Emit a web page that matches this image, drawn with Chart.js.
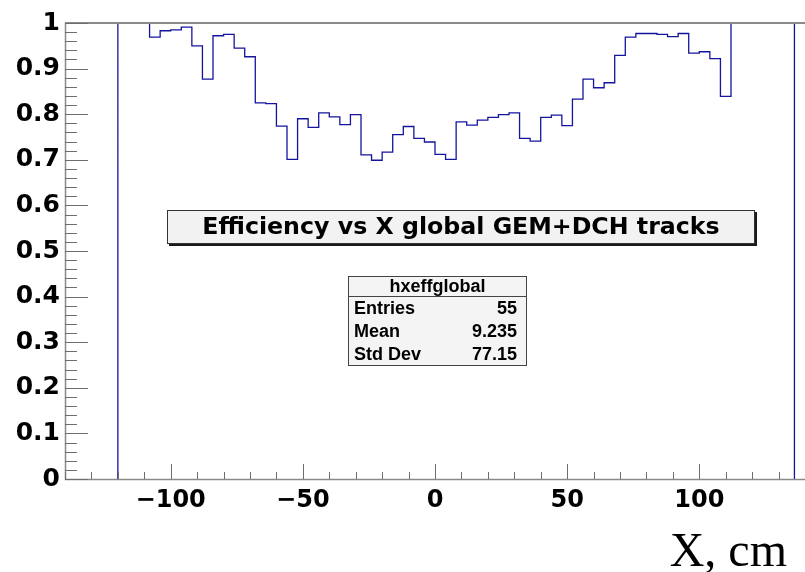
<!DOCTYPE html>
<html>
<head>
<meta charset="utf-8">
<script src="https://cdn.jsdelivr.net/npm/chart.js@4.4.1/dist/chart.umd.min.js"></script>
<style>
  html, body { margin: 0; padding: 0; background: #ffffff; overflow: hidden; }
  canvas { display: block; }
</style>
</head>
<body>
<canvas id="c" width="805" height="572"></canvas>
<script>
// hxeffglobal: efficiency per 4 cm bin in X, 64 bins from -120 to 136 cm
const histXmin = -120;
const histXmax = 136;
const binWidth = 4;

const efficiency = [
  1.000, 1.000, 1.000,
  0.969, 0.983, 0.985, 0.991, 0.950, 0.877, 0.972, 0.975, 0.945, 0.926,
  0.825, 0.823, 0.774, 0.701, 0.790, 0.771, 0.803, 0.794, 0.777, 0.799,
  0.711, 0.699, 0.717, 0.755, 0.773, 0.747, 0.739, 0.712, 0.701, 0.783,
  0.776, 0.787, 0.793, 0.799, 0.803, 0.747, 0.741, 0.793, 0.798, 0.775,
  0.833, 0.877, 0.858, 0.869, 0.929, 0.969, 0.977, 0.977, 0.975, 0.970,
  0.977, 0.934, 0.937, 0.922, 0.839,
  1.000, 1.000, 1.000, 1.000, 1.000, 1.000
];

const axisX = { min: -140, max: 140, major: 50, minor: 10 };
const axisY = { min: 0, max: 1, major: 0.1, minor: 0.02 };

const titleText = 'Efficiency vs X global GEM+DCH tracks';
const xAxisTitle = 'X, cm';
const statsName = 'hxeffglobal';
const statsLabels = ['Entries', 'Mean', 'Std Dev'];
const statsValues = ['55', '9.235', '77.15'];

// Step outline: rise from zero at the first edge, one point per bin low edge,
// and fall back to zero at the last edge.
const outline = [{ x: histXmin, y: 0 }];
efficiency.forEach((v, i) => outline.push({ x: histXmin + i * binWidth, y: v }));
outline.push({ x: histXmax, y: 0 });

const FRAME = '#8a8a8a';
const TICK = '#6e6e6e';

function minusSign(v) {
  return v < 0 ? '\u2212' + Math.abs(v) : String(v);
}

// Inside tick marks, frame and the text panes
const rootStyle = {
  id: 'rootStyle',
  beforeDraw(chart) {
    const ctx = chart.ctx;
    ctx.save();
    ctx.fillStyle = '#ffffff';
    ctx.fillRect(0, 0, chart.width, chart.height);
    ctx.restore();
  },
  afterDraw(chart) {
    const { ctx, chartArea: a, scales: { x, y } } = chart;
    ctx.save();

    // frame
    ctx.strokeStyle = FRAME;
    ctx.lineWidth = 2;
    ctx.beginPath();
    ctx.moveTo(a.left, a.top);
    ctx.lineTo(a.right, a.top);
    ctx.stroke();
    ctx.lineWidth = 1.5;
    ctx.beginPath();
    ctx.moveTo(a.left + 0.5, a.top);
    ctx.lineTo(a.left + 0.5, a.bottom + 0.5);
    ctx.lineTo(a.right, a.bottom + 0.5);
    ctx.stroke();

    // tick marks pointing into the frame
    ctx.strokeStyle = TICK;
    ctx.lineWidth = 1;
    ctx.beginPath();
    const ny = Math.round((axisY.max - axisY.min) / axisY.minor);
    const perY = Math.round(axisY.major / axisY.minor);
    for (let i = 0; i <= ny; i++) {
      const py = Math.round(y.getPixelForValue(axisY.min + i * axisY.minor)) + 0.5;
      const len = i % perY === 0 ? 23 : 12;
      ctx.moveTo(a.left, py);
      ctx.lineTo(a.left + len, py);
    }
    const nx = Math.round((axisX.max - axisX.min) / axisX.minor);
    for (let i = 0; i <= nx; i++) {
      const v = axisX.min + i * axisX.minor;
      const px = Math.round(x.getPixelForValue(v)) + 0.5;
      const len = v % axisX.major === 0 ? 15 : 7;
      ctx.moveTo(px, a.bottom);
      ctx.lineTo(px, a.bottom - len);
    }
    ctx.stroke();

    // axis title
    ctx.fillStyle = '#000000';
    ctx.font = '48px "Liberation Serif", "DejaVu Serif", serif';
    ctx.textAlign = 'right';
    ctx.textBaseline = 'alphabetic';
    ctx.fillText(xAxisTitle, 787, 566);

    // title pave with shadow
    const tb = { x: 167, y: 210, w: 588, h: 34 };
    ctx.fillStyle = '#1a1a1a';
    ctx.fillRect(tb.x + 2, tb.y + 2, tb.w, tb.h);
    ctx.fillStyle = '#f2f2f2';
    ctx.fillRect(tb.x, tb.y, tb.w, tb.h);
    ctx.strokeStyle = '#333333';
    ctx.lineWidth = 1;
    ctx.strokeRect(tb.x + 0.5, tb.y + 0.5, tb.w - 1, tb.h - 1);
    ctx.fillStyle = '#000000';
    ctx.font = 'bold 23.7px "DejaVu Sans", sans-serif';
    ctx.textAlign = 'center';
    ctx.textBaseline = 'middle';
    ctx.fillText(titleText, tb.x + tb.w / 2, tb.y + tb.h / 2 + 1);

    // statistics box
    const sb = { x: 348, y: 276, w: 179, h: 90, head: 20 };
    ctx.fillStyle = '#f4f4f4';
    ctx.fillRect(sb.x, sb.y, sb.w, sb.h);
    ctx.strokeStyle = '#444444';
    ctx.strokeRect(sb.x + 0.5, sb.y + 0.5, sb.w - 1, sb.h - 1);
    ctx.beginPath();
    ctx.moveTo(sb.x, sb.y + sb.head + 0.5);
    ctx.lineTo(sb.x + sb.w, sb.y + sb.head + 0.5);
    ctx.stroke();
    ctx.fillStyle = '#000000';
    ctx.font = 'bold 18px "Liberation Sans", Arial, sans-serif';
    ctx.textAlign = 'center';
    ctx.textBaseline = 'middle';
    ctx.fillText(statsName, sb.x + sb.w / 2, sb.y + sb.head / 2 + 1);
    const rowH = (sb.h - sb.head) / statsLabels.length;
    statsLabels.forEach((lab, i) => {
      const ry = sb.y + sb.head + rowH * (i + 0.5) + 1;
      ctx.textAlign = 'left';
      ctx.fillText(lab, sb.x + 6, ry);
      ctx.textAlign = 'right';
      ctx.fillText(statsValues[i], sb.x + sb.w - 10, ry);
    });

    ctx.restore();
  }
};

new Chart(document.getElementById('c'), {
  type: 'line',
  data: {
    datasets: [{
      label: statsName,
      data: outline,
      stepped: true,
      borderColor: '#14149e',
      borderWidth: 1.3,
      pointRadius: 0,
      fill: false,
      tension: 0,
      clip: 3
    }]
  },
  options: {
    responsive: false,
    animation: false,
    devicePixelRatio: 1,
    layout: { padding: { top: 23, right: 0, bottom: 0, left: 0 } },
    plugins: {
      legend: { display: false },
      tooltip: { enabled: false },
      title: { display: false }
    },
    scales: {
      x: {
        type: 'linear',
        min: axisX.min,
        max: axisX.max,
        grid: { display: false, drawTicks: false, tickLength: 0 },
        border: { display: false },
        afterFit(scale) { scale.height = 93; },
        ticks: {
          stepSize: axisX.major,
          includeBounds: false,
          autoSkip: false,
          maxRotation: 0,
          padding: 7,
          color: '#000000',
          font: { family: '"DejaVu Sans", sans-serif', weight: 'bold', size: 24 },
          callback: v => minusSign(v)
        }
      },
      y: {
        type: 'linear',
        min: axisY.min,
        max: axisY.max,
        grid: { display: false, drawTicks: false, tickLength: 0 },
        border: { display: false },
        afterFit(scale) { scale.width = 65; },
        ticks: {
          stepSize: axisY.major,
          autoSkip: false,
          padding: 5,
          color: '#000000',
          font: { family: '"DejaVu Sans", sans-serif', weight: 'bold', size: 25 },
          callback: v => String(Number(v.toFixed(1)))
        }
      }
    }
  },
  plugins: [rootStyle]
});
</script>
</body>
</html>
